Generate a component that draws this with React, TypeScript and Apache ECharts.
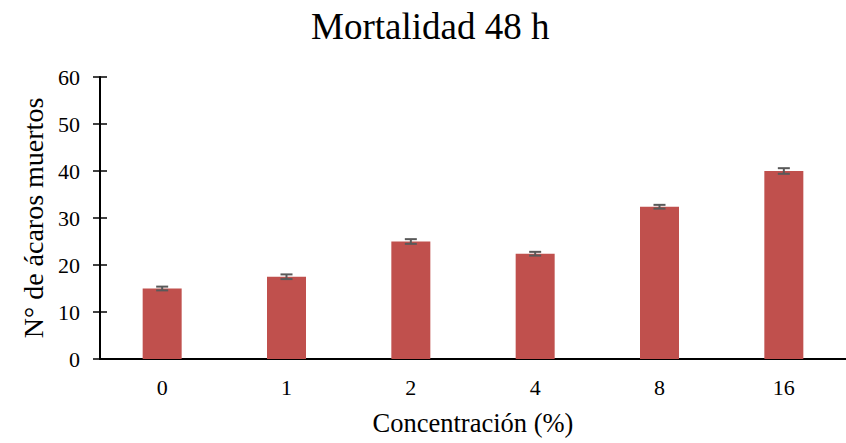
import React, { useEffect, useRef } from "react";
import * as echarts from "echarts";

const categories = ["0", "1", "2", "4", "8", "16"];
const mortality = [15, 17.5, 25, 22.4, 32.4, 40];
const errors = [0.4, 0.5, 0.5, 0.4, 0.4, 0.6];
const yTicks = { min: 0, max: 60, interval: 10 };

const FONT = "Liberation Serif";

export default function App() {
  const ref = useRef<HTMLDivElement>(null);
  useEffect(() => {
    if (!ref.current) return;
    const chart = echarts.init(ref.current, undefined, { renderer: "svg" });
    const gridRect = { left: 100, right: 0, top: 77, bottom: 84 };
    chart.setOption({
      animation: false,
      backgroundColor: "#ffffff",
      textStyle: { fontFamily: FONT },
      title: {
        text: "Mortalidad 48 h",
        left: 306,
        top: 3,
        textStyle: { fontFamily: FONT, fontSize: 37, fontWeight: "normal", color: "#000" },
      },
      grid: [
        { ...gridRect, containLabel: false },
        { ...gridRect, containLabel: false },
      ],
      xAxis: [
        {
          type: "category",
          gridIndex: 0,
          data: categories,
          axisLine: { lineStyle: { color: "#000", width: 2 } },
          axisTick: { inside: true, length: 7, lineStyle: { color: "#000", width: 1.5 } },
          axisLabel: { fontFamily: FONT, fontSize: 22, color: "#000", margin: 17 },
          name: "Concentración (%)",
          nameLocation: "middle",
          nameGap: 50,
          nameTextStyle: { fontFamily: FONT, fontSize: 26.5, color: "#000" },
        },
        {
          type: "category",
          gridIndex: 1,
          data: categories,
          show: false,
        },
      ],
      yAxis: [
        {
          type: "value",
          gridIndex: 0,
          ...yTicks,
          axisLine: { show: true, lineStyle: { color: "#000", width: 2 } },
          axisTick: { show: true, inside: false, length: 7, lineStyle: { color: "#000", width: 1.5 } },
          splitLine: { show: false },
          axisLabel: { fontFamily: FONT, fontSize: 22, color: "#000", margin: 20 },
          name: "N° de ácaros muertos",
          nameLocation: "middle",
          nameGap: 47,
          nameTextStyle: { fontFamily: FONT, fontSize: 28, color: "#000" },
        },
        {
          type: "value",
          gridIndex: 1,
          ...yTicks,
          axisLine: { show: false },
          axisTick: { show: true, inside: true, length: 7, lineStyle: { color: "#000", width: 1.5 } },
          splitLine: { show: false },
          axisLabel: { show: false },
        },
      ],
      series: [
        {
          type: "bar",
          xAxisIndex: 0,
          yAxisIndex: 0,
          data: mortality,
          barWidth: 39,
          itemStyle: { color: "#C0504D" },
        },
        {
          type: "custom",
          xAxisIndex: 0,
          yAxisIndex: 0,
          data: mortality.map((v, i) => [i, v - errors[i], v + errors[i]]),
          z: 10,
          renderItem: (params: any, api: any) => {
            const x = api.value(0);
            const lo = api.coord([x, api.value(1)]);
            const hi = api.coord([x, api.value(2)]);
            const half = 6;
            const style = { stroke: "#595959", lineWidth: 2 };
            return {
              type: "group",
              children: [
                { type: "line", shape: { x1: lo[0], y1: lo[1], x2: hi[0], y2: hi[1] }, style },
                { type: "line", shape: { x1: lo[0] - half, y1: lo[1], x2: lo[0] + half, y2: lo[1] }, style },
                { type: "line", shape: { x1: hi[0] - half, y1: hi[1], x2: hi[0] + half, y2: hi[1] }, style },
              ],
            };
          },
        },
      ],
    });
    return () => chart.dispose();
  }, []);
  return (
    <div
      ref={ref}
      style={{ position: "fixed", left: 0, top: 0, width: 846, height: 443, background: "#fff" }}
    />
  );
}
